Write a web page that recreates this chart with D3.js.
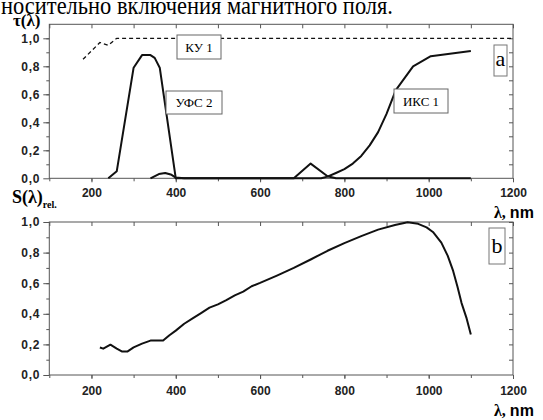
<!DOCTYPE html>
<html>
<head>
<meta charset="utf-8">
<script src="https://cdn.jsdelivr.net/npm/d3@7"></script>
<style>
  body { margin: 0; background: #fff; }
  svg { display: block; }
  .tick text { font-family: "Liberation Sans", Arial, sans-serif; font-weight: bold; font-size: 12px; fill: #222; }
  .tick line { stroke: #555; }
  .domain { display: none; }
  .serif { font-family: "Liberation Serif", "Times New Roman", Times, serif; }
</style>
</head>
<body>
<div id="chart"></div>
<script>
// wavelength (nm) vs transmission for the filters (panel a)
const kuData = [[180, 0.85], [200, 0.91], [220, 0.97], [240, 0.95], [260, 1.0], [1200, 1.0]];
const ufsData = [[240, 0], [260, 0.05], [300, 0.79], [320, 0.88], [340, 0.88], [350, 0.86], [362, 0.79],
  [400, 0], [680, 0], [720, 0.105], [760, 0.015], [780, 0], [1100, 0]];
const iksData = [[340, 0], [360, 0.03], [375, 0.038], [390, 0.025], [400, 0.005], [420, 0], [745, 0],
  [760, 0.012], [780, 0.038], [800, 0.065], [820, 0.105], [840, 0.16], [860, 0.235], [880, 0.33],
  [900, 0.46], [922, 0.63], [963, 0.80], [1005, 0.872], [1100, 0.91]];

// relative spectral sensitivity (panel b)
const sensData = [[220, 0.18], [228, 0.172], [245, 0.198], [260, 0.172], [273, 0.153], [285, 0.153],
  [300, 0.18], [320, 0.205], [340, 0.225], [370, 0.225], [385, 0.26], [400, 0.29], [420, 0.335],
  [440, 0.37], [460, 0.405], [480, 0.44], [500, 0.462], [520, 0.49], [540, 0.52], [560, 0.545],
  [580, 0.58], [600, 0.602], [640, 0.65], [680, 0.70], [720, 0.755], [760, 0.812], [800, 0.862],
  [840, 0.908], [880, 0.95], [920, 0.98], [950, 0.998], [975, 0.988], [995, 0.965], [1010, 0.935],
  [1030, 0.865], [1045, 0.78], [1058, 0.68], [1068, 0.58], [1078, 0.47], [1090, 0.37], [1100, 0.265]];

const xMajor = [200, 400, 600, 800, 1000, 1200];
const xMinor = d3.range(100, 1201, 100);
const yMajor = [0, 0.2, 0.4, 0.6, 0.8, 1.0];
const yMinor = d3.range(1, 11).map((d) => d / 10);

const boxLabels = [
  { text: 'КУ 1', x: 177, y: 35, w: 44, h: 24 },
  { text: 'УФС 2', x: 166, y: 91, w: 56, h: 23 },
  { text: 'ИКС 1', x: 394, y: 89, w: 54, h: 24 }
];

const width = 543;
const height = 420;

const svg = d3.select('#chart').append('svg')
  .attr('width', width)
  .attr('height', height);

// cut-off caption line at the very top (only its lower part shows in the scan)
svg.append('text')
  .attr('class', 'serif')
  .attr('x', 1)
  .attr('y', 14)
  .attr('textLength', 392)
  .attr('lengthAdjust', 'spacingAndGlyphs')
  .style('font-size', '26px')
  .text('носительно включения магнитного поля.');

const x = d3.scaleLinear().domain([100, 1200]).range([49.3, 513]);
const yTop = d3.scaleLinear().domain([0, 1.1]).range([178.3, 24.3]);
const yBot = d3.scaleLinear().domain([0, 1.0]).range([375, 222]);

const fmt = (d) => d3.format('.1f')(d).replace('.', ',');

function drawFrame(y, padX) {
  const [y0, y1] = y.range();
  const g = svg.append('g');

  // minor ticks first, then the major ones with labels
  g.append('g').attr('transform', `translate(0,${y0})`)
    .call(d3.axisBottom(x).tickValues(xMinor).tickSize(3).tickFormat(''));
  g.append('g').attr('transform', `translate(0,${y0})`)
    .call(d3.axisBottom(x).tickValues(xMajor).tickSize(4).tickPadding(padX).tickFormat(d3.format('d')));
  g.append('g').attr('transform', `translate(0,${y1})`)
    .call(d3.axisTop(x).tickValues(xMinor).tickSize(-4).tickFormat(''));

  const left = x.range()[0];
  const right = x.range()[1];
  const minors = yMinor.filter((d) => d <= y.domain()[1] + 1e-9);
  g.append('g').attr('transform', `translate(${left},0)`)
    .call(d3.axisLeft(y).tickValues(minors).tickSize(3).tickFormat(''));
  g.append('g').attr('transform', `translate(${left},0)`)
    .call(d3.axisLeft(y).tickValues(yMajor).tickSize(6).tickPadding(3).tickFormat(fmt))
    .selectAll('text').style('letter-spacing', '0.8px');
  g.append('g').attr('transform', `translate(${right},0)`)
    .call(d3.axisRight(y).tickValues(minors).tickSize(-4).tickFormat(''));

  g.append('rect')
    .attr('x', left)
    .attr('y', y1)
    .attr('width', right - left)
    .attr('height', y0 - y1)
    .attr('fill', 'none')
    .attr('stroke', '#555')
    .attr('stroke-width', 1);
}

drawFrame(yTop, 6);
drawFrame(yBot, 7);

const lineTop = d3.line().x((d) => x(d[0])).y((d) => yTop(d[1]));
const lineBot = d3.line().x((d) => x(d[0])).y((d) => yBot(d[1]));

svg.append('path')
  .attr('d', lineTop(kuData))
  .attr('fill', 'none')
  .attr('stroke', '#111')
  .attr('stroke-width', 1.3)
  .attr('stroke-dasharray', '4,3');

[ufsData, iksData].forEach((s) => {
  svg.append('path')
    .attr('d', lineTop(s))
    .attr('fill', 'none')
    .attr('stroke', '#111')
    .attr('stroke-width', 2)
    .attr('stroke-linejoin', 'round');
});

svg.append('path')
  .attr('d', lineBot(sensData))
  .attr('fill', 'none')
  .attr('stroke', '#111')
  .attr('stroke-width', 2)
  .attr('stroke-linejoin', 'round');

// boxed curve labels
boxLabels.forEach((b) => {
  svg.append('rect')
    .attr('x', b.x).attr('y', b.y).attr('width', b.w).attr('height', b.h)
    .attr('fill', '#fff').attr('stroke', '#666').attr('stroke-width', 1);
  svg.append('text')
    .attr('class', 'serif')
    .attr('x', b.x + b.w / 2).attr('y', b.y + b.h / 2 + 4.5)
    .attr('text-anchor', 'middle')
    .style('font-size', '13px')
    .text(b.text);
});

// panel letters
[['a', 494, 45, 13, 31, 66], ['b', 489, 228, 16, 36, 253]].forEach(([t, bx, by, bw, bh, ty]) => {
  svg.append('rect')
    .attr('x', bx).attr('y', by).attr('width', bw).attr('height', bh)
    .attr('fill', '#fff').attr('stroke', '#777').attr('stroke-width', 1);
  svg.append('text')
    .attr('class', 'serif')
    .attr('x', bx + bw / 2).attr('y', ty)
    .attr('text-anchor', 'middle')
    .style('font-size', '22px')
    .text(t);
});

// axis titles
svg.append('text').attr('class', 'serif').attr('x', 13).attr('y', 26)
  .style('font-size', '17px').style('font-weight', 'bold')
  .text('τ(λ)');

const sLab = svg.append('text').attr('class', 'serif').attr('x', 12).attr('y', 203)
  .style('font-size', '18px').style('font-weight', 'bold');
sLab.append('tspan').text('S(λ)');
sLab.append('tspan').attr('dy', 5).style('font-size', '10px').text('rel.');

[218, 416].forEach((yy) => {
  const t = svg.append('text').attr('x', 494).attr('y', yy)
    .style('font-weight', 'bold').style('font-size', '16px');
  t.append('tspan').attr('class', 'serif').text('λ, ');
  t.append('tspan').style('font-family', '"Liberation Sans", Arial, sans-serif').text('nm');
});
</script>
</body>
</html>
